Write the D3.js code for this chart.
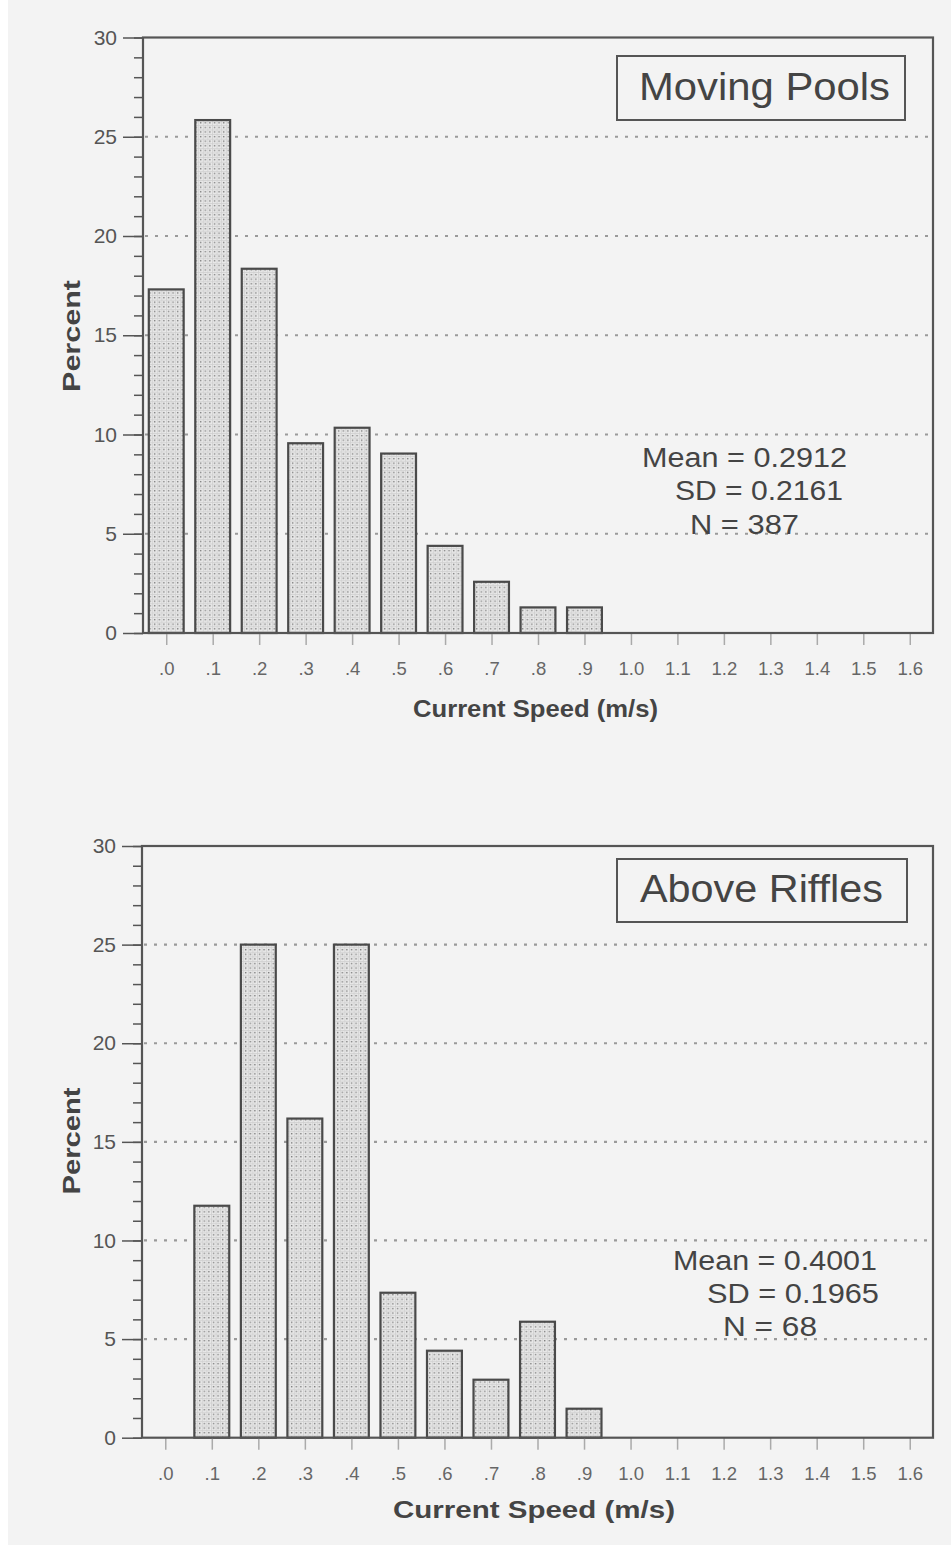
<!DOCTYPE html>
<html>
<head>
<meta charset="utf-8">
<script src="https://cdn.jsdelivr.net/npm/d3@7"></script>
<style>
  html, body { margin: 0; padding: 0; background: #ffffff; }
  svg { display: block; }
  text { font-family: "Liberation Sans", Arial, Helvetica, sans-serif; }
</style>
</head>
<body>
<svg id="chart" width="951" height="1555"></svg>
<script>
// ---- data ----
const tickSpeeds = [0, 0.1, 0.2, 0.3, 0.4, 0.5, 0.6, 0.7, 0.8, 0.9, 1.0, 1.1, 1.2, 1.3, 1.4, 1.5, 1.6];
const tickLabels = [".0", ".1", ".2", ".3", ".4", ".5", ".6", ".7", ".8", ".9", "1.0", "1.1", "1.2", "1.3", "1.4", "1.5", "1.6"];
const barSpeeds = [0, 0.1, 0.2, 0.3, 0.4, 0.5, 0.6, 0.7, 0.8, 0.9];
const poolsPercent = [17.31, 25.84, 18.35, 9.56, 10.34, 9.04, 4.39, 2.58, 1.29, 1.29];
const rifflesPercent = [0, 11.76, 25.0, 16.18, 25.0, 7.35, 4.41, 2.94, 5.88, 1.47];
const yMajorTicks = [0, 5, 10, 15, 20, 25, 30];
const gridTicks = [5, 10, 15, 20, 25];
const poolsStats = ["Mean = 0.2912", "SD = 0.2161", "N = 387"];
const rifflesStats = ["Mean = 0.4001", "SD = 0.1965", "N = 68"];
const xTitle = "Current Speed (m/s)";
const yTitle = "Percent";

const svg = d3.select("#chart");

// background
svg.append("rect").attr("x", 8).attr("y", 0).attr("width", 943).attr("height", 1545).attr("fill", "#f3f3f3");

// bar fill pattern
const defs = svg.append("defs");
const pat = defs.append("pattern").attr("id", "dots").attr("patternUnits", "userSpaceOnUse")
  .attr("width", 4.6).attr("height", 4.6);
pat.append("rect").attr("width", 4.6).attr("height", 4.6).attr("fill", "#e9e9e9");
pat.append("rect").attr("x", 0).attr("y", 0).attr("width", 4.6).attr("height", 0.8).attr("fill", "#d0d0d0");
pat.append("rect").attr("x", 0).attr("y", 0).attr("width", 0.8).attr("height", 4.6).attr("fill", "#d0d0d0");
pat.append("rect").attr("x", 1.8).attr("y", 1.8).attr("width", 1.4).attr("height", 1.4).attr("fill", "#808080");

function panel(cfg) {
  const { left, top, width, height, values, title, titleBox, titleText, stats, xLabel, yLabel } = cfg;
  const g = svg.append("g").attr("transform", `translate(${left},${top})`);
  const x = d3.scaleLinear().domain([-0.05, 1.65]).range([0, width]);
  const y = d3.scaleLinear().domain([0, 30]).range([height, 0]);

  // grid lines
  g.append("g").selectAll("line").data(gridTicks).join("line")
    .attr("x1", 2).attr("x2", width - 2)
    .attr("y1", d => y(d)).attr("y2", d => y(d))
    .attr("stroke", "#9a9a9a").attr("stroke-width", 2.2).attr("stroke-dasharray", "3,7");

  // bars
  const bw = x(0.075) - x(0);
  g.append("g").selectAll("rect")
    .data(barSpeeds.map((s, i) => ({ s, v: values[i] })).filter(d => d.v > 0))
    .join("rect")
    .attr("x", d => x(d.s) - bw / 2)
    .attr("y", d => y(d.v))
    .attr("width", bw)
    .attr("height", d => y(0) - y(d.v))
    .attr("fill", "url(#dots)")
    .attr("stroke", "#4a4a4a").attr("stroke-width", 2.2);

  // minor y ticks
  const minor = g.append("g").call(d3.axisLeft(y).tickValues(d3.range(0, 31, 1)).tickSize(9).tickFormat(""));
  minor.select(".domain").remove();
  minor.selectAll("line").attr("stroke", "#555").attr("stroke-width", 1.5);
  // major y ticks
  const major = g.append("g").call(d3.axisLeft(y).tickValues(yMajorTicks).tickSize(20).tickPadding(6));
  major.select(".domain").remove();
  major.selectAll("line").attr("stroke", "#555").attr("stroke-width", 1.5);
  major.selectAll("text").attr("font-size", 21).attr("fill", "#555")
    .attr("font-family", "'Liberation Sans', Arial, sans-serif");

  // x axis
  const xa = g.append("g").attr("transform", `translate(0,${height})`)
    .call(d3.axisBottom(x).tickValues(tickSpeeds).tickFormat((d, i) => tickLabels[i]).tickSize(12).tickPadding(17));
  xa.select(".domain").remove();
  xa.selectAll("line").attr("stroke", "#aaa").attr("stroke-width", 1.5);
  xa.selectAll("text").attr("font-size", 18.5).attr("fill", "#666")
    .attr("font-family", "'Liberation Sans', Arial, sans-serif");

  // frame
  g.append("rect").attr("x", 0).attr("y", 0).attr("width", width).attr("height", height)
    .attr("fill", "none").attr("stroke", "#555").attr("stroke-width", 2.2);

  // title box
  svg.append("rect").attr("x", titleBox.x).attr("y", titleBox.y).attr("width", titleBox.w).attr("height", titleBox.h)
    .attr("fill", "#f3f3f3").attr("stroke", "#555").attr("stroke-width", 2);
  svg.append("text").attr("x", titleText.x).attr("y", titleText.y)
    .attr("font-size", 38).attr("fill", "#444")
    .attr("textLength", titleText.len).attr("lengthAdjust", "spacingAndGlyphs")
    .text(title);

  // stats
  stats.lines.forEach((t, i) => {
    svg.append("text").attr("x", stats.pos[i][0]).attr("y", stats.pos[i][1])
      .attr("font-size", 27).attr("fill", "#444")
      .attr("textLength", stats.pos[i][2]).attr("lengthAdjust", "spacingAndGlyphs")
      .text(t);
  });

  // axis titles
  svg.append("text").attr("x", xLabel.x).attr("y", xLabel.y)
    .attr("font-size", 23).attr("font-weight", "bold").attr("fill", "#444")
    .attr("textLength", xLabel.len).attr("lengthAdjust", "spacingAndGlyphs")
    .text(xTitle);
  svg.append("text")
    .attr("transform", `translate(${yLabel.x},${yLabel.y}) rotate(-90)`)
    .attr("text-anchor", "middle")
    .attr("font-size", 23).attr("font-weight", "bold").attr("fill", "#444")
    .attr("textLength", yLabel.len).attr("lengthAdjust", "spacingAndGlyphs")
    .text(yTitle);
}

panel({
  left: 143, top: 37.5, width: 790, height: 595.5,
  values: poolsPercent,
  title: "Moving Pools",
  titleBox: { x: 617, y: 56, w: 288, h: 64 },
  titleText: { x: 639, y: 100, len: 251 },
  stats: { lines: poolsStats, pos: [[642, 467, 205], [675, 500, 168], [690, 534, 109]] },
  xLabel: { x: 413, y: 717, len: 245 },
  yLabel: { x: 80, y: 336, len: 112 }
});

panel({
  left: 142, top: 846, width: 791, height: 591.7,
  values: rifflesPercent,
  title: "Above Riffles",
  titleBox: { x: 617, y: 859, w: 290, h: 63 },
  titleText: { x: 640, y: 902, len: 243 },
  stats: { lines: rifflesStats, pos: [[673, 1270, 204], [707, 1303, 172], [723, 1336, 94]] },
  xLabel: { x: 393, y: 1518, len: 282 },
  yLabel: { x: 80, y: 1141, len: 107 }
});
</script>
</body>
</html>
